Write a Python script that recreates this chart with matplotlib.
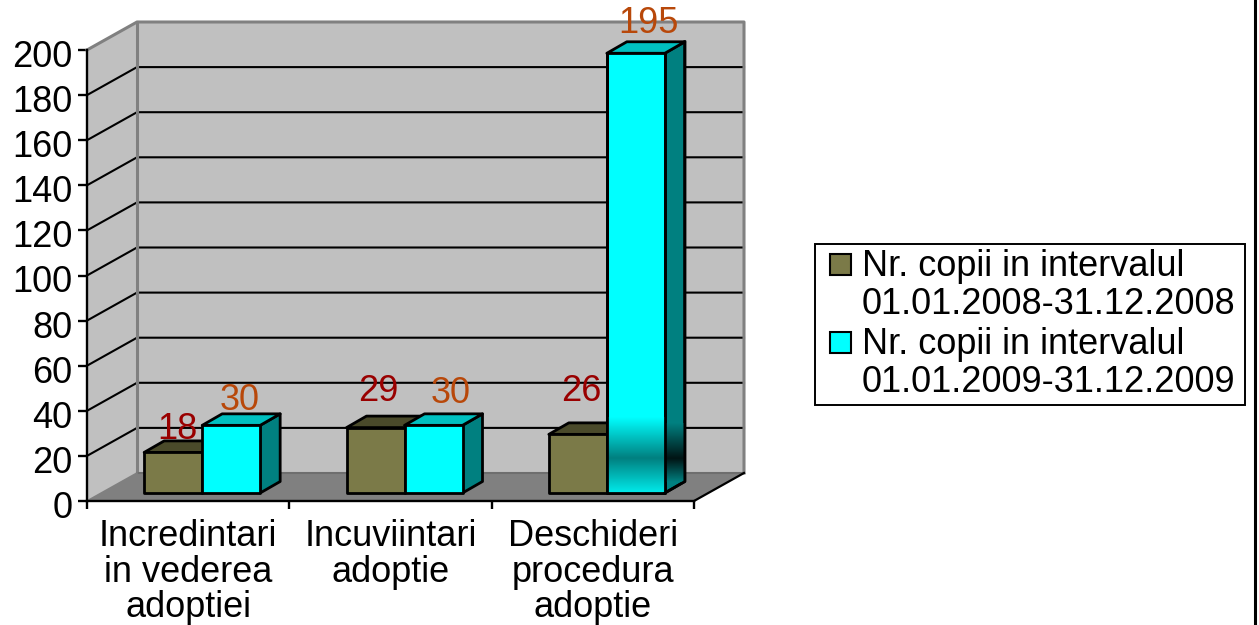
import numpy as np
import matplotlib
matplotlib.use('Agg')
import matplotlib.pyplot as plt
from matplotlib.colors import LinearSegmentedColormap
from matplotlib.legend_handler import HandlerPatch
from matplotlib.lines import Line2D
from matplotlib.patches import Patch, Polygon, Rectangle
from matplotlib.transforms import ScaledTranslation

categories = ['Incredintari\nin vederea\nadoptiei', 'Incuviintari\nadoptie', 'Deschideri\nprocedura\nadoptie']
series_names = ['Nr. copii in intervalul\n01.01.2008-31.12.2008', 'Nr. copii in intervalul\n01.01.2009-31.12.2009']
values_2008 = [18, 29, 26]
values_2009 = [30, 30, 195]
y_ticks = list(range(0, 201, 20))

# label nudges in pixels, the original labels were moved by hand
nudge_2008 = [(4, 23), (3, 36), (3, 43)]
nudge_2009 = [(8, 25), (17, 32), (13, 30)]

FONT = 'Liberation Sans'
FS = 26
OLIVE, OLIVE_TOP = '#7b7a48', '#4a4a2a'
CYAN, CYAN_TOP, CYAN_SIDE = '#00ffff', '#00c0c0', '#008080'
RED, BROWN = '#990000', '#b8480a'
W, H = 1259, 625
L, R, T, B = 87, 694, 50, 501

plt.rcParams['font.family'] = [FONT, 'DejaVu Sans']

fig = plt.figure(figsize=(W / 100, H / 100), dpi=100)
ax = fig.add_axes([L / W, 1 - B / H, (R - L) / W, (B - T) / H])
ax.patch.set_visible(False)


def dx(px):
    return px * 3 / (R - L)


def dy(px):
    return px * 200 / (B - T)


def poly(points, **kw):
    kw.setdefault('clip_on', False)
    p = Polygon(points, closed=True, **kw)
    ax.add_patch(p)
    return p


xl, xr = -0.5, 2.5
wx, wy = dx(50), dy(28)   # wall depth
sx, sy = dx(20), dy(11.5)  # bar depth

# walls and floor
poly([(xl, 0), (xl + wx, wy), (xl + wx, 200 + wy), (xl, 200)], fc='#c0c0c0', ec='none', zorder=1)
poly([(xl + wx, wy), (xr + wx, wy), (xr + wx, 200 + wy), (xl + wx, 200 + wy)], fc='#c0c0c0', ec='none', zorder=1)
poly([(xl, 0), (xr, 0), (xr + wx, wy), (xl + wx, wy)], fc='#808080', ec='none', zorder=1)

for v in y_ticks[1:-1]:
    ax.plot([xl, xl + wx, xr + wx], [v, v + wy, v + wy], color='black', lw=1.5, clip_on=False, zorder=2)

gray_edge = dict(color='#808080', lw=2.2, clip_on=False, zorder=2)
ax.plot([xl, xl + wx, xr + wx, xr + wx], [200, 200 + wy, 200 + wy, wy], **gray_edge)
ax.plot([xl + wx, xl + wx], [wy, 200 + wy], **gray_edge)
ax.plot([xl + wx, xr + wx], [wy, wy], color='#6e6e6e', lw=1.5, clip_on=False, zorder=2)
ax.plot([xl, xl + wx], [0, wy], color='#808080', lw=1.2, clip_on=False, zorder=2)
ax.plot([xr, xr + wx], [0, wy], color='black', lw=1.6, clip_on=False, zorder=2)

base = dy(8)
bar_w = dx(58)
edge = dict(ec='black', lw=2.0, joinstyle='round')


def draw_bar(x0, v, front, top, side, z):
    poly([(x0 + bar_w, base), (x0 + bar_w + sx, base + sy), (x0 + bar_w + sx, base + v + sy), (x0 + bar_w, base + v)],
         fc=side, zorder=z, **edge)
    poly([(x0, base + v), (x0 + bar_w, base + v), (x0 + bar_w + sx, base + v + sy), (x0 + sx, base + v + sy)],
         fc=top, zorder=z, **edge)
    poly([(x0, base), (x0 + bar_w, base), (x0 + bar_w, base + v), (x0, base + v)],
         fc=front, zorder=z, **edge)


for i in range(3):
    centre = i + dx(14)
    draw_bar(centre - bar_w, values_2008[i], OLIVE, OLIVE_TOP, OLIVE, 3 + i)
    draw_bar(centre, values_2009[i], CYAN, CYAN_TOP, CYAN_SIDE, 3.5 + i)
    ax.annotate(str(values_2008[i]), (centre - bar_w / 2, base + values_2008[i]), xytext=nudge_2008[i],
                textcoords='offset pixels', ha='center', va='center', color=RED, fontsize=FS, zorder=20)
    ax.annotate(str(values_2009[i]), (centre + bar_w / 2, base + values_2009[i]), xytext=nudge_2009[i],
                textcoords='offset pixels', ha='center', va='center', color=BROWN, fontsize=FS, zorder=20)

# gradient at the bottom of the tall bar
x0 = 2 + dx(14)
v = values_2009[2]
front_cm = LinearSegmentedColormap.from_list('f', [(0, '#00ebeb'), (35 / 76, '#008080'), (1, '#00ffff')])
side_cm = LinearSegmentedColormap.from_list('s', [(0, '#008080'), (0.4, '#001414'), (1, '#008080')])
ramp = np.linspace(1, 0, 256).reshape(-1, 1)
im = ax.imshow(ramp, cmap=front_cm, vmin=0, vmax=1, aspect='auto', zorder=5.6,
               extent=(x0, x0 + bar_w, base, base + dy(76)), clip_on=True)
im.set_clip_path(Polygon([(x0, base), (x0 + bar_w, base), (x0 + bar_w, base + v), (x0, base + v)],
                         transform=ax.transData))
im2 = ax.imshow(ramp, cmap=side_cm, vmin=0, vmax=1, aspect='auto', zorder=5.6,
                extent=(x0 + bar_w, x0 + bar_w + sx, base + dy(11), base + dy(70)))
im2.set_clip_path(Polygon([(x0 + bar_w, base), (x0 + bar_w + sx, base + sy), (x0 + bar_w + sx, base + v + sy),
                           (x0 + bar_w, base + v)], transform=ax.transData))
outline = dict(color='black', lw=2.0, clip_on=False, zorder=5.7)
ax.plot([x0, x0, x0 + bar_w, x0 + bar_w], [base + v, base, base, base + v], **outline)
ax.plot([x0 + bar_w, x0 + bar_w + sx, x0 + bar_w + sx], [base, base + sy, base + v + sy], **outline)

ax.set_xlim(xl, xr)
ax.set_ylim(0, 200)

for s in ['top', 'right']:
    ax.spines[s].set_visible(False)
for s in ['left', 'bottom']:
    ax.spines[s].set_linewidth(1.7)
    ax.spines[s].set_zorder(8)

ax.set_yticks(y_ticks)
ax.tick_params(axis='y', labelsize=FS, length=6.5, width=1.7, pad=4)
nudge_down = ScaledTranslation(0, -2.5 / 72, fig.dpi_scale_trans)
for t in ax.get_yticklabels():
    t.set_transform(t.get_transform() + nudge_down)
ax.set_xticks([xl, 0.5, 1.5, xr])
ax.set_xticklabels([])
ax.set_xticks([0, 1, 2], categories, minor=True)
ax.tick_params(axis='x', which='major', length=5.5, width=1.7)
ax.tick_params(axis='x', which='minor', length=0, labelsize=FS, pad=13)
for t in ax.get_xticklabels(minor=True):
    t.set_linespacing(1.02)


def raised_patch(legend, orig_handle, xdescent, ydescent, width, height, fontsize):
    # sits beside the first text line instead of between the two
    return Rectangle((-xdescent + 0.27 * fontsize, -ydescent + 0.6 * fontsize), width - 0.1 * fontsize, height)


handles = [Patch(fc=OLIVE, ec='black', lw=1.5), Patch(fc=CYAN, ec='black', lw=1.5)]
leg = fig.legend(handles, series_names, loc='lower left', bbox_to_anchor=(815 / W, 1 - 405 / H, 430 / W, 159 / H),
                 mode='expand', borderaxespad=0, fontsize=FS, fancybox=False, edgecolor='black', framealpha=1,
                 handlelength=0.69, handleheight=0.5, handletextpad=0.47, labelspacing=0.15, borderpad=0.14,
                 handler_map={Patch: HandlerPatch(patch_func=raised_patch)})
leg.get_frame().set_linewidth(1.4)
for t in leg.get_texts():
    t.set_linespacing(1.1)

# border line down the right side of the slide
fig.add_artist(Line2D([1254.5 / W] * 2, [0, 1], color='black', lw=2.2))

fig.savefig('out.png', dpi=100)
